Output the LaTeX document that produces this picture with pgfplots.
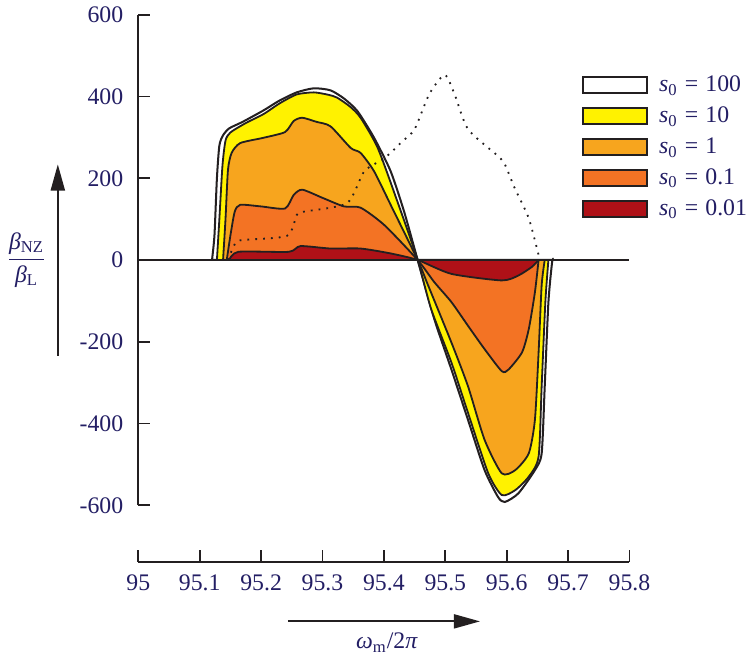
\documentclass[border=0pt]{standalone}
\usepackage{fontspec}
\setmainfont{Liberation Serif}
\usepackage{pgfplots}
\pgfplotsset{compat=1.18}
\usetikzlibrary{arrows.meta,calc}
\definecolor{navy}{RGB}{35,30,100}
\definecolor{ink}{HTML}{231F20}
\definecolor{cyel}{HTML}{FFF200}
\definecolor{corl}{HTML}{F7A51E}
\definecolor{cor}{HTML}{F37324}
\definecolor{cred}{HTML}{AF1117}

\begin{document}
\begin{tikzpicture}[font=\fontsize{11.8}{14}\selectfont]
\begin{axis}[name=main, scale only axis, width=244pt, height=243.7pt,
  xmin=95, xmax=95.8, ymin=-600, ymax=600, clip=false,
  axis x line=none, axis y line=left,
  axis line style={-, ink, line width=0.85pt},
  ytick={-600,-400,-200,0,200,400,600},
  tick align=inside, major tick length=6pt,
  tick style={ink, line width=0.85pt},
  /pgf/number format/assume math mode=true,
  yticklabel style={text=navy, xshift=-4pt},
  legend style={draw=none, fill=none, inner sep=0pt,
    at={(rel axis cs:0.902,0.88)}, anchor=north west,
    row sep=4pt, column sep=4.5pt,
    nodes={inner sep=1pt, text=navy}},
  legend cell align=left,
  legend image code/.code={\draw[#1, line width=1pt] (0pt,-4pt) rectangle (32pt,4pt);},
]
% s0 = 100
\addplot[draw=ink, fill=white, line width=1pt, smooth, tension=0.4] coordinates {
(95.12,0) (95.124,60) (95.128,200) (95.132,280) (95.138,305) (95.148,322)
(95.17,338) (95.204,366) (95.23,390) (95.258,410) (95.286,420) (95.313,415)
(95.335,395) (95.357,364) (95.384,299) (95.411,217) (95.433,118) (95.455,0)
(95.482,-144) (95.51,-268) (95.537,-391) (95.564,-514) (95.586,-580) (95.597,-592)
(95.619,-571) (95.646,-514) (95.657,-473) (95.662,-309) (95.668,-103) (95.674,-5)
(95.676,0)} \closedcycle;
\addlegendentry{\textit{s}\textsubscript{0}\hspace{0.3em}=\hspace{0.3em}100}
% s0 = 10
\addplot[draw=ink, fill=cyel, line width=0.9pt, smooth, tension=0.4] coordinates {
(95.128,0) (95.132,100) (95.137,230) (95.142,292) (95.15,312) (95.175,335)
(95.204,357) (95.23,383) (95.258,405) (95.286,410) (95.31,404) (95.324,397)
(95.345,375) (95.362,348) (95.39,274) (95.422,143) (95.455,0) (95.477,-120)
(95.51,-251) (95.537,-374) (95.57,-522) (95.592,-575) (95.614,-563) (95.636,-530)
(95.652,-481) (95.657,-309) (95.663,-103) (95.668,0)} \closedcycle;
\addlegendentry{\textit{s}\textsubscript{0}\hspace{0.3em}=\hspace{0.3em}10}
% s0 = 1
\addplot[draw=ink, fill=corl, line width=0.9pt, smooth, tension=0.4] coordinates {
(95.138,0) (95.142,100) (95.146,220) (95.152,262) (95.166,286) (95.204,299)
(95.239,313) (95.253,340) (95.267,348) (95.29,338) (95.313,327) (95.346,274)
(95.362,262) (95.384,217) (95.411,135) (95.455,0) (95.472,-62) (95.51,-202)
(95.537,-309) (95.564,-440) (95.592,-522) (95.614,-514) (95.636,-473) (95.646,-391)
(95.652,-226) (95.657,-62) (95.662,0)} \closedcycle;
\addlegendentry{\textit{s}\textsubscript{0}\hspace{0.3em}=\hspace{0.3em}1}
% s0 = 0.1
\addplot[draw=ink, fill=cor, line width=0.9pt, smooth, tension=0.4] coordinates {
(95.144,0) (95.15,60) (95.157,118) (95.166,135) (95.2,131) (95.239,126)
(95.253,159) (95.267,172) (95.3,152) (95.335,131) (95.362,128) (95.401,85)
(95.455,0) (95.482,-54) (95.51,-103) (95.537,-161) (95.564,-218) (95.592,-272)
(95.603,-268) (95.625,-226) (95.636,-169) (95.646,-79) (95.652,0)} \closedcycle;
\addlegendentry{\textit{s}\textsubscript{0}\hspace{0.3em}=\hspace{0.3em}0.1}
% s0 = 0.01
\addplot[draw=ink, fill=cred, line width=0.9pt, smooth, tension=0.4] coordinates {
(95.148,0) (95.163,20) (95.245,20) (95.264,34) (95.313,28) (95.362,28)
(95.411,16) (95.455,0) (95.51,-34) (95.592,-50) (95.619,-38) (95.641,-17)
(95.652,0)} \closedcycle;
\addlegendentry{\textit{s}\textsubscript{0}\hspace{0.3em}=\hspace{0.3em}0.01}
% dotted reference curve
\addplot[ink, line width=0.9pt, dash pattern=on 0.9pt off 3pt, smooth, tension=0.4, forget plot] coordinates {
(95.146,0) (95.155,32) (95.166,48) (95.242,59) (95.258,110) (95.269,118)
(95.34,139) (95.368,217) (95.401,249) (95.43,290) (95.45,320) (95.474,406)
(95.499,453) (95.515,406) (95.537,320) (95.586,254) (95.597,234) (95.613,176)
(95.636,102) (95.654,0)};
% zero line
\addplot[ink, line width=1.1pt, forget plot] coordinates {(95,0) (95.8,0)};
\end{axis}

\begin{axis}[name=xax, at={($(main.south west)+(0,-28.2pt)$)}, anchor=south west,
  scale only axis, width=244pt, height=10pt,
  xmin=95, xmax=95.8, ymin=0, ymax=1,
  axis y line=none, axis x line=bottom,
  axis line style={-, ink, line width=0.85pt},
  xtick={95,95.1,95.2,95.3,95.4,95.5,95.6,95.7,95.8},
  tick align=inside, major tick length=6pt,
  tick style={ink, line width=0.85pt},
  /pgf/number format/assume math mode=true,
  xticklabel style={text=navy, yshift=-3pt},
]
\end{axis}

\draw[ink, line width=0.9pt, -{Triangle[length=13pt,width=7pt]}]
  ($(xax.south)+(-47.75pt,-29.5pt)$) -- ++(95.5pt,0);
\node[text=navy] at ($(xax.south)+(1.5pt,-40pt)$) {\textit{ω}\textsubscript{m}/2\textit{π}};
\draw[ink, line width=0.9pt, -{Triangle[length=13pt,width=7pt]}]
  ($(main.west)+(-40pt,-47.5pt)$) -- ++(0,95pt);
\node[text=navy] at ($(main.west)+(-55.5pt,0)$)
  {$\displaystyle\frac{\mbox{\textit{β}\textsubscript{NZ}}}{\mbox{\textit{β}\textsubscript{L}}}$};
\end{tikzpicture}
\end{document}
